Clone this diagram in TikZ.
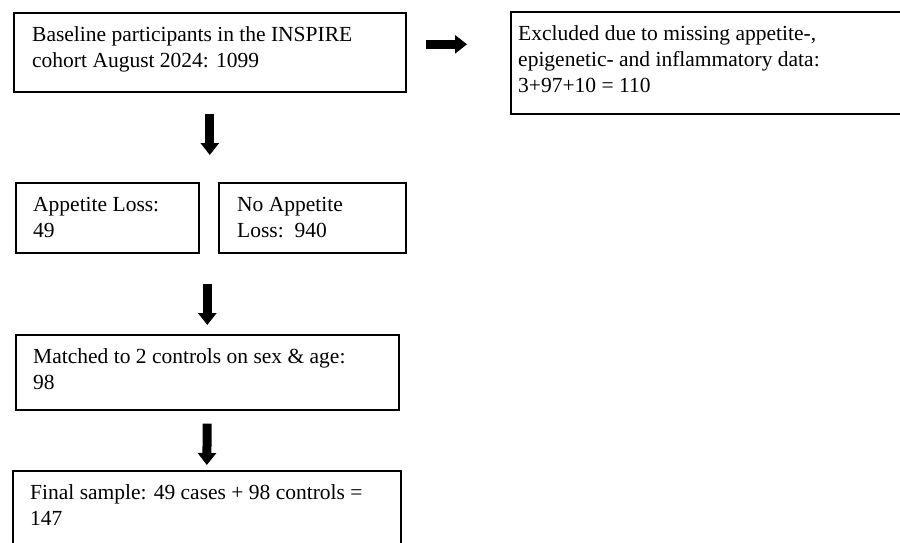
\documentclass[tikz,border=0pt]{standalone}
\usepackage{fontspec}
\setmainfont{Liberation Serif}
\usetikzlibrary{arrows.meta,calc}
\begin{document}
\begin{tikzpicture}[x=1pt,y=-1pt,
  box/.style={draw=black, line width=1.6pt, inner sep=0pt, anchor=north west},
  txt/.style={anchor=base west, inner sep=0pt, align=left,
    font=\fontsize{21.5}{26}\selectfont},
  bigarrow/.style={line width=9pt, -{Triangle[width=18pt,length=12pt]}}]
\path[use as bounding box] (0,0) rectangle (900,542);
\clip (0,0) rectangle (900,542);
\node[box, minimum width=392pt, minimum height=79pt] (b1) at (13,12) {};
\node[txt] (t1) at (32,67.5) {Baseline participants in the INSPIRE\\cohort August 2024: 1099};
\node[box, minimum width=420pt, minimum height=102pt] (ex) at (510,11) {};
\node[txt] (tex) at (518,92.5) {Excluded due to missing appetite-,\\epigenetic- and inflammatory data:\\3+97+10 = 110};
\node[box, minimum width=183pt, minimum height=70pt] (al) at (15,182) {};
\node[txt] (tal) at (33,237.5) {Appetite Loss:\\49};
\node[box, minimum width=187pt, minimum height=70pt] (nal) at (218,182) {};
\node[txt] (tnal) at (237,237.5) {No Appetite\\Loss:\ \ 940};
\node[box, minimum width=383pt, minimum height=75pt] (m) at (15,334) {};
\node[txt] (tm) at (33,389.5) {Matched to 2 controls on sex \& age:\\98};
\node[box, minimum width=388pt, minimum height=100pt] (f) at (12,470) {};
\node[txt] (tf) at (30,525.5) {Final sample: 49 cases + 98 controls =\\147};
\coordinate (a1end) at (b1.south |- al.north);
\coordinate (a2start) at (m.north |- al.south);
\draw[bigarrow, shorten <=21pt, shorten >=27pt] (b1.south) -- (a1end);
\draw[bigarrow, shorten <=30pt, shorten >=9pt] (a2start) -- (m.north);
\draw[bigarrow, shorten <=13pt, shorten >=5pt] (m.south) -- (f.north);
\draw[bigarrow, shorten <=19pt, shorten >=43pt] ([yshift=8pt]b1.east) -- ([yshift=8pt]b1.east -| ex.west);
\end{tikzpicture}
\end{document}
